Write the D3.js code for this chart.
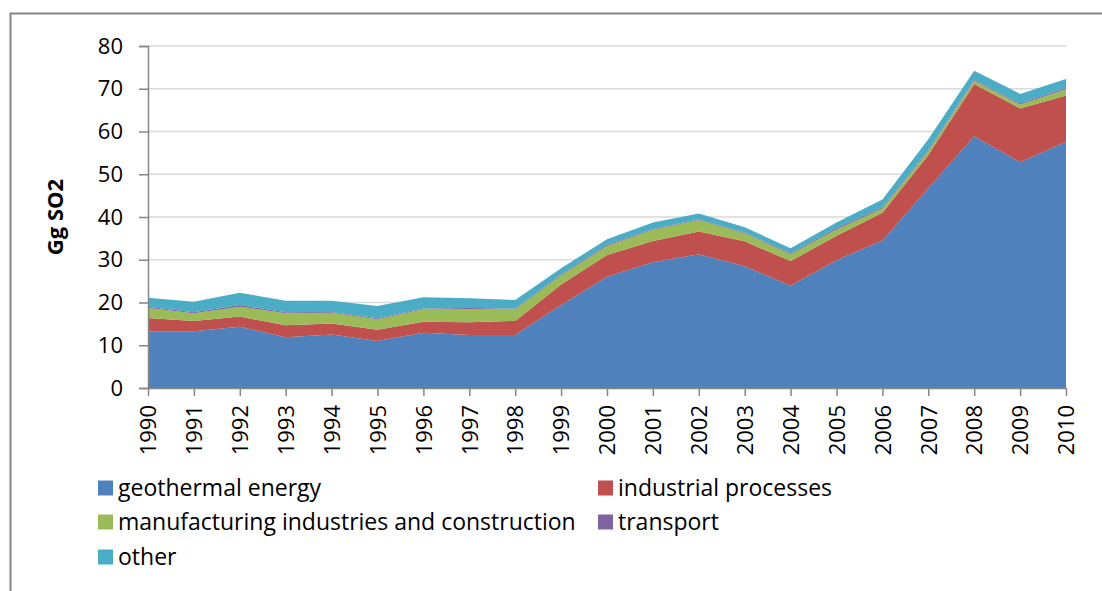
<!DOCTYPE html>
<html>
<head>
<meta charset="utf-8">
<script src="https://cdn.jsdelivr.net/npm/d3@7"></script>
<style>
  body { margin: 0; background: #fff; }
  svg { display: block; font-family: "Open Sans", sans-serif; }
</style>
</head>
<body>
<div id="chart"></div>
<script>
const years = [1990,1991,1992,1993,1994,1995,1996,1997,1998,1999,2000,2001,2002,2003,2004,2005,2006,2007,2008,2009,2010]
const geothermal = [13.3,13.3,14.3,11.9,12.5,11.0,12.9,12.4,12.4,19.4,26.0,29.4,31.3,28.5,23.9,29.9,34.5,46.7,58.9,52.8,57.6]
const industrial = [3.1,2.4,2.4,2.8,2.6,2.6,2.6,3.0,3.3,4.8,5.1,5.0,5.3,5.8,5.8,5.7,6.5,7.8,12.2,12.6,10.8]
const manufacturing = [2.3,1.8,2.3,2.8,2.5,2.5,2.9,3.1,2.7,2.2,2.1,2.6,2.7,1.9,1.6,1.5,1.0,0.9,0.8,0.9,1.5]
const transport = [0.3,0.2,0.4,0.2,0.2,0.2,0.2,0.2,0.2,0.2,0.3,0.2,0.2,0.2,0.2,0.3,0.3,0.3,0.2,0.3,0.3]
const other = [2.1,2.5,2.9,2.7,2.6,2.9,2.6,2.3,2.0,1.4,1.3,1.5,1.3,1.2,1.2,1.3,1.8,2.5,2.1,2.2,2.1]
const seriesNames = ["geothermal energy","industrial processes","manufacturing industries and construction","transport","other"]
const colors = ["#4F81BD","#C0504D","#9BBB59","#8064A2","#4BACC6"]
const yTicks = [0,10,20,30,40,50,60,70,80]

const width = 1102, height = 591
const svg = d3.select("#chart").append("svg")
    .attr("width", width)
    .attr("height", height)

// outer chart frame (only top and left edges are visible)
svg.append("path")
    .attr("d", "M10.5,591 L10.5,13.5 L1102,13.5")
    .attr("fill", "none")
    .attr("stroke", "#868686")
    .attr("stroke-width", 2)

const x = d3.scalePoint().domain(years).range([148, 1066])
const y = d3.scaleLinear().domain([0, 80]).range([388, 46])

const table = years.map((yr, i) => ({
  year: yr,
  s0: geothermal[i], s1: industrial[i], s2: manufacturing[i], s3: transport[i], s4: other[i]
}))
const keys = ["s0","s1","s2","s3","s4"]
const stacked = d3.stack().keys(keys)(table)

// gridlines
svg.append("g")
  .selectAll("line")
  .data(yTicks.filter(d => d > 0))
  .join("line")
    .attr("x1", 148).attr("x2", 1066)
    .attr("y1", d => y(d)).attr("y2", d => y(d))
    .attr("stroke", "#d9d9d9")
    .attr("stroke-width", 1.5)

const area = d3.area()
    .x(d => x(d.data.year))
    .y0(d => y(d[0]))
    .y1(d => y(d[1]))

svg.append("g")
  .selectAll("path")
  .data(stacked)
  .join("path")
    .attr("d", area)
    .attr("fill", (d, i) => colors[i])

// y axis
const yAxis = svg.append("g")
    .attr("transform", "translate(148,0)")
    .call(d3.axisLeft(y).tickValues(yTicks).tickSize(9).tickPadding(16))
yAxis.select(".domain").attr("stroke", "#868686").attr("stroke-width", 1.5)
yAxis.selectAll(".tick line").attr("stroke", "#868686").attr("stroke-width", 1.5)
yAxis.selectAll("text")
    .attr("font-family", "Open Sans")
    .attr("font-size", 22)
    .attr("fill", "#000")

// x axis
const xAxis = svg.append("g")
    .attr("transform", "translate(0,388)")
    .call(d3.axisBottom(x).tickSize(8).tickSizeOuter(0))
xAxis.select(".domain").attr("stroke", "#868686").attr("stroke-width", 1.5)
xAxis.selectAll(".tick line").attr("stroke", "#868686").attr("stroke-width", 1.5)
xAxis.selectAll("text")
    .attr("font-family", "Open Sans")
    .attr("font-size", 22)
    .attr("fill", "#000")
    .attr("text-anchor", "end")
    .attr("transform", "rotate(-90)")
    .attr("x", -17)
    .attr("y", 0)
    .attr("dy", "0.35em")

// y title
svg.append("text")
    .attr("transform", "translate(63,217) rotate(-90)")
    .attr("text-anchor", "middle")
    .attr("font-family", "Open Sans")
    .attr("font-weight", "bold")
    .attr("font-size", 22)
    .text("Gg SO2")

// legend
const legendPos = [[98,488],[598,488],[98,522],[598,522],[98,557]]
const legend = svg.append("g")
  .selectAll("g")
  .data(seriesNames)
  .join("g")
    .attr("transform", (d, i) => `translate(${legendPos[i][0]},${legendPos[i][1]})`)
legend.append("rect")
    .attr("x", 0).attr("y", -7.5)
    .attr("width", 15).attr("height", 15)
    .attr("fill", (d, i) => colors[i])
legend.append("text")
    .attr("x", 20)
    .attr("dy", "0.35em")
    .attr("font-family", "Open Sans")
    .attr("font-size", 23)
    .attr("fill", "#000")
    .text(d => d)
</script>
</body>
</html>
